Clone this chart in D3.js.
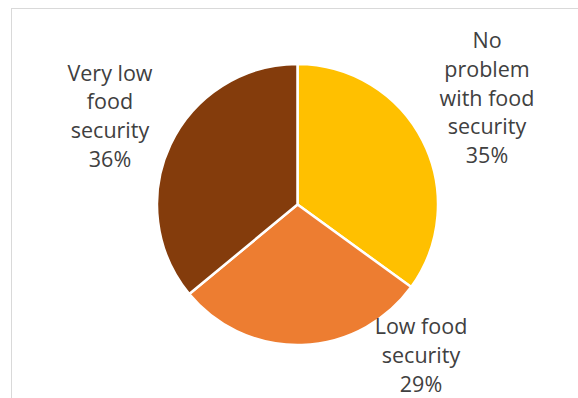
<!DOCTYPE html>
<meta charset="utf-8">
<style>
  body { margin: 0; background: #fff; }
  svg { display: block; }
</style>
<script src="https://d3js.org/d3.v7.min.js"></script>
<div id="chart"></div>
<script>
    var width = 578, height = 398;

    // data (clockwise from 12 o'clock)
    const categories = ["No problem with food security", "Low food security", "Very low food security"];
    const values = [35, 29, 36];
    const colors = ["#FFC000", "#ED7D31", "#843C0C"];
    // how each label is wrapped, and where its centre sits
    const labelLines = [
        ["No", "problem", "with food", "security", "35%"],
        ["Low food", "security", "29%"],
        ["Very low", "food", "security", "36%"]
    ];
    const labelPos = [[487, 48], [421, 334], [110, 80.5]];

    var cx = 297.5, cy = 204.5, radius = 140.5;
    var lineH = 28.8;

    var svg = d3.select("#chart")
        .append("svg")
            .attr("width", width)
            .attr("height", height);

    // chart area border (right and bottom fall outside the frame)
    svg.append("rect")
        .attr("x", 11.5)
        .attr("y", 8.5)
        .attr("width", 700)
        .attr("height", 500)
        .attr("fill", "none")
        .attr("stroke", "#d9d9d9")
        .attr("stroke-width", 1);

    var pie = d3.pie().sort(null).value(d => d);
    var arc = d3.arc().innerRadius(0).outerRadius(radius);
    var color = d3.scaleOrdinal().domain(categories).range(colors);

    var g = svg.append("g")
        .attr("transform", "translate(" + cx + "," + cy + ")");

    g.selectAll("path")
        .data(pie(values))
        .enter().append("path")
            .attr("d", arc)
            .attr("fill", (d, i) => color(categories[i]))
            .attr("stroke", "#fff")
            .attr("stroke-width", 2.5)
            .attr("stroke-linejoin", "round");

    var labels = svg.append("g")
        .selectAll("text")
        .data(labelLines)
        .enter().append("text")
            .attr("text-anchor", "middle")
            .attr("font-family", "'Open Sans', sans-serif")
            .attr("font-size", "21.5px")
            .attr("fill", "#404040")
            .attr("x", (d, i) => labelPos[i][0])
            .attr("y", (d, i) => labelPos[i][1]);

    labels.each(function(lines, i) {
        d3.select(this).selectAll("tspan")
            .data(lines)
            .enter().append("tspan")
                .attr("x", labelPos[i][0])
                .attr("dy", (d, j) => j === 0 ? 0 : lineH)
                .text(d => d);
    });
</script>
